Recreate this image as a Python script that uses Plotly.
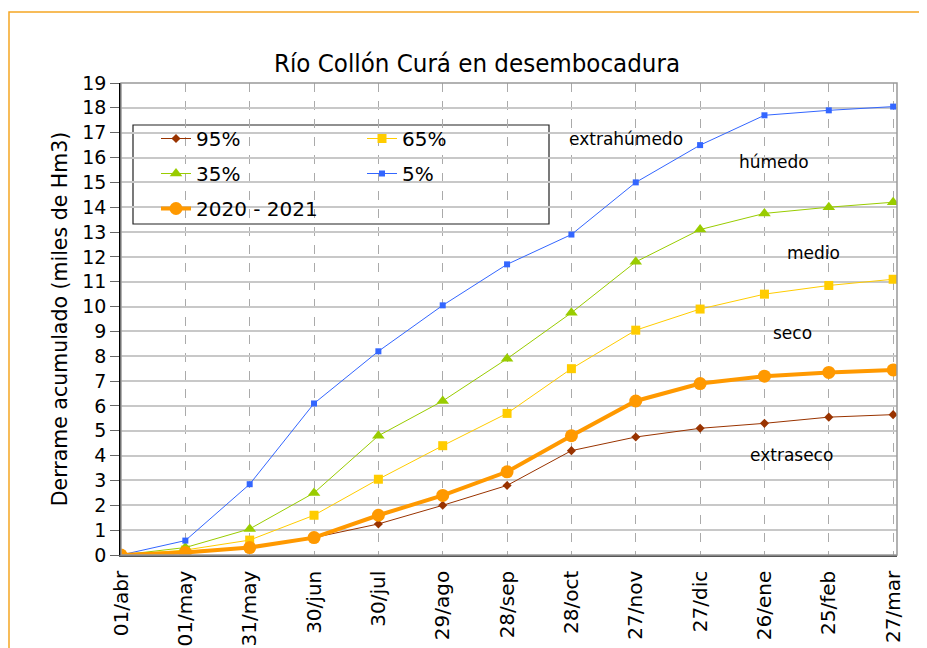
import plotly.graph_objects as go

fechas = ["01/abr", "01/may", "31/may", "30/jun", "30/jul", "29/ago", "28/sep",
          "28/oct", "27/nov", "27/dic", "26/ene", "25/feb", "27/mar"]

p95 = [0, 0.15, 0.3, 0.7, 1.25, 2.0, 2.8, 4.2, 4.75, 5.1, 5.3, 5.55, 5.65]
p65 = [0, 0.2, 0.6, 1.6, 3.05, 4.4, 5.7, 7.5, 9.05, 9.9, 10.5, 10.85, 11.1]
p35 = [0, 0.3, 1.05, 2.5, 4.8, 6.2, 7.9, 9.75, 11.8, 13.1, 13.75, 14.0, 14.2]
p05 = [0, 0.58, 2.85, 6.1, 8.2, 10.05, 11.7, 12.9, 15.0, 16.5, 17.7, 17.9, 18.05]
actual = [0, 0.1, 0.3, 0.7, 1.6, 2.4, 3.35, 4.8, 6.2, 6.9, 7.2, 7.35, 7.45]

# etiquetas de zonas: (texto, posicion x en indice de fecha, valor y)
zonas = [("extrahúmedo", 7.85, 16.75), ("húmedo", 10.15, 15.82), ("medio", 10.76, 12.16),
         ("seco", 10.43, 8.94), ("extraseco", 10.42, 4.03)]

FONT = "DejaVu Sans"
x = list(range(len(fechas)))

# la pagina html tiene 8px de margen en body
L, T, W, H = 113, 75, 776, 472

def px(v):
    return (v - 121) / W

def py(v):
    return (555 - v) / H

fig = go.Figure()

series = [
    ("95%", p95, "#993300", "diamond", 7, 1, "legend"),
    ("65%", p65, "#FFCC00", "square", 9, 1, "legend2"),
    ("35%", p35, "#99CC00", "triangle-up", 11, 1, "legend"),
    ("5%", p05, "#3366FF", "square", 6, 1, "legend2"),
    ("2020 - 2021", actual, "#FF9900", "circle", 13, 4, "legend"),
]
for name, vals, color, sym, size, width, leg in series:
    fig.add_trace(go.Scatter(
        x=x, y=vals, name=name, mode="lines+markers",
        line=dict(color=color, width=width),
        marker=dict(symbol=sym, size=size, color=color),
        legend=leg, legendgroup=name,
    ))

for txt, xi, yi in zonas:
    fig.add_annotation(x=xi, y=yi, text=txt, showarrow=False,
                       font=dict(family=FONT, size=17, color="#000"))

# caja de leyenda y marco exterior
fig.add_shape(type="rect", xref="paper", yref="paper",
              x0=px(133), x1=px(549), y0=py(224), y1=py(125),
              line=dict(color="#222", width=1.2), fillcolor="white", layer="below")
fig.add_shape(type="rect", xref="paper", yref="paper",
              x0=0, x1=1, y0=0, y1=1, line=dict(color="#999", width=1.5), layer="above")
fig.add_shape(type="rect", xref="paper", yref="paper",
              x0=px(9), x1=px(960), y0=py(680), y1=py(12),
              line=dict(color="#F5A623", width=1.5))

legend_common = dict(
    orientation="v", xanchor="left", yanchor="top", bgcolor="rgba(0,0,0,0)",
    borderwidth=0, font=dict(family=FONT, size=20, color="#000"), tracegroupgap=6,
)
fig.update_layout(
    width=927, height=648,
    margin=dict(l=L, r=927 - L - W, t=T, b=648 - T - H),
    paper_bgcolor="white", plot_bgcolor="white",
    title=dict(text="Río Collón Curá en desembocadura", x=(477 - 8) / 927, xanchor="center",
               y=1 - (63 - 8) / 648, yanchor="middle",
               font=dict(family="DejaVu Sans Condensed, " + FONT, size=25.6, color="#000")),
    font=dict(family=FONT, size=18, color="#000"),
    legend=dict(x=px(156), y=py(119), **legend_common),
    legend2=dict(x=px(362), y=py(119), **legend_common),
    showlegend=True,
)
fig.update_xaxes(
    tickvals=x, ticktext=fechas, tickangle=-90, range=[0, 12.06], automargin=False,
    showgrid=True, gridcolor="#aaaaaa", griddash="dash", gridwidth=1,
    showline=True, linecolor="#555", linewidth=1.5, zeroline=False,
    tickfont=dict(family=FONT, size=20), ticks="", ticklabelstandoff=6,
)
fig.update_yaxes(
    range=[0, 19], dtick=1, tick0=0, showgrid=True, gridcolor="#c8c8c8", gridwidth=1.5,
    showline=True, linecolor="#000", linewidth=1.5, zeroline=False, automargin=False,
    ticks="outside", ticklen=9, tickcolor="#666",
    tickfont=dict(family=FONT, size=19),
    title=dict(text="Derrame acumulado (miles de Hm3)", font=dict(family=FONT, size=20.5),
               standoff=9),
)

fig.write_html("out.html")
